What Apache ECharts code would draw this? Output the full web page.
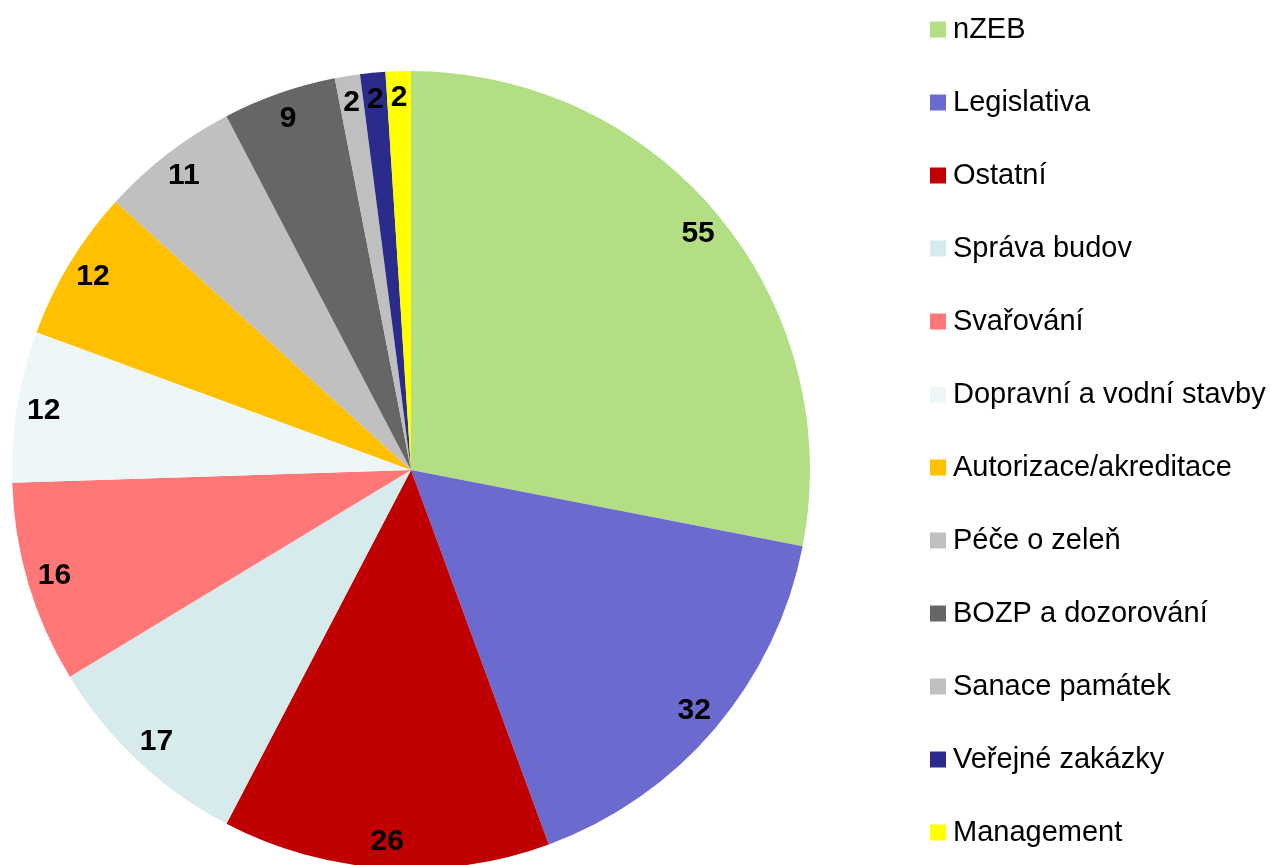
<!DOCTYPE html>
<html>
<head>
<meta charset="utf-8">
<script src="https://cdn.jsdelivr.net/npm/echarts@6/dist/echarts.min.js"></script>
<style>
  html, body { margin: 0; padding: 0; background: #fff; }
  #chart { width: 1270px; height: 865px; }
</style>
</head>
<body>
<div id="chart"></div>
<script>
// kategorie a hodnoty
var names = ['nZEB', 'Legislativa', 'Ostatní', 'Správa budov', 'Svařování', 'Dopravní a vodní stavby',
  'Autorizace/akreditace', 'Péče o zeleň', 'BOZP a dozorování', 'Sanace památek', 'Veřejné zakázky', 'Management']
var values = [55, 32, 26, 17, 16, 12, 12, 11, 9, 2, 2, 2]
var colors = ['#b3de83', '#6b6bcf', '#c00000', '#d7eaec', '#ff7777', '#eef6f8',
  '#ffc000', '#c0c0c0', '#666666', '#bfbfbf', '#2b2b8b', '#ffff00']

var data = []
for (var i = 0; i < names.length; i++) {
  data.push({ name: names[i], value: values[i], itemStyle: { color: colors[i] } })
}

var chart = echarts.init(document.getElementById('chart'))
var option = {
  animation: false,
  legend: {
    orient: 'vertical',
    left: 925,
    top: 10,
    icon: 'rect',
    itemWidth: 16,
    itemHeight: 16,
    itemGap: 44,
    textStyle: { fontFamily: 'Liberation Sans, Arial, sans-serif', fontSize: 29, lineHeight: 29, color: '#000', padding: [0, 0, 0, 2] },
    data: names
  },
  series: [
    {
      type: 'pie',
      center: [411, 470],
      radius: [0, 399],
      startAngle: 90,
      data: data,
      label: { show: false },
      labelLine: { show: false }
    },
    {
      // jen popisky blizko okraje
      type: 'pie',
      silent: true,
      center: [411, 470],
      radius: [339, 399],
      startAngle: 90,
      data: values.map(function(v, i) { return { name: names[i], value: v } }),
      itemStyle: { color: 'rgba(0,0,0,0)' },
      label: {
        show: true,
        position: 'inside',
        formatter: '{c}',
        fontFamily: 'Liberation Sans, Arial, sans-serif',
        fontSize: 30,
        fontWeight: 'bold',
        color: '#000'
      },
      labelLine: { show: false },
      legendHoverLink: false
    }
  ]
}
chart.setOption(option)
</script>
</body>
</html>
